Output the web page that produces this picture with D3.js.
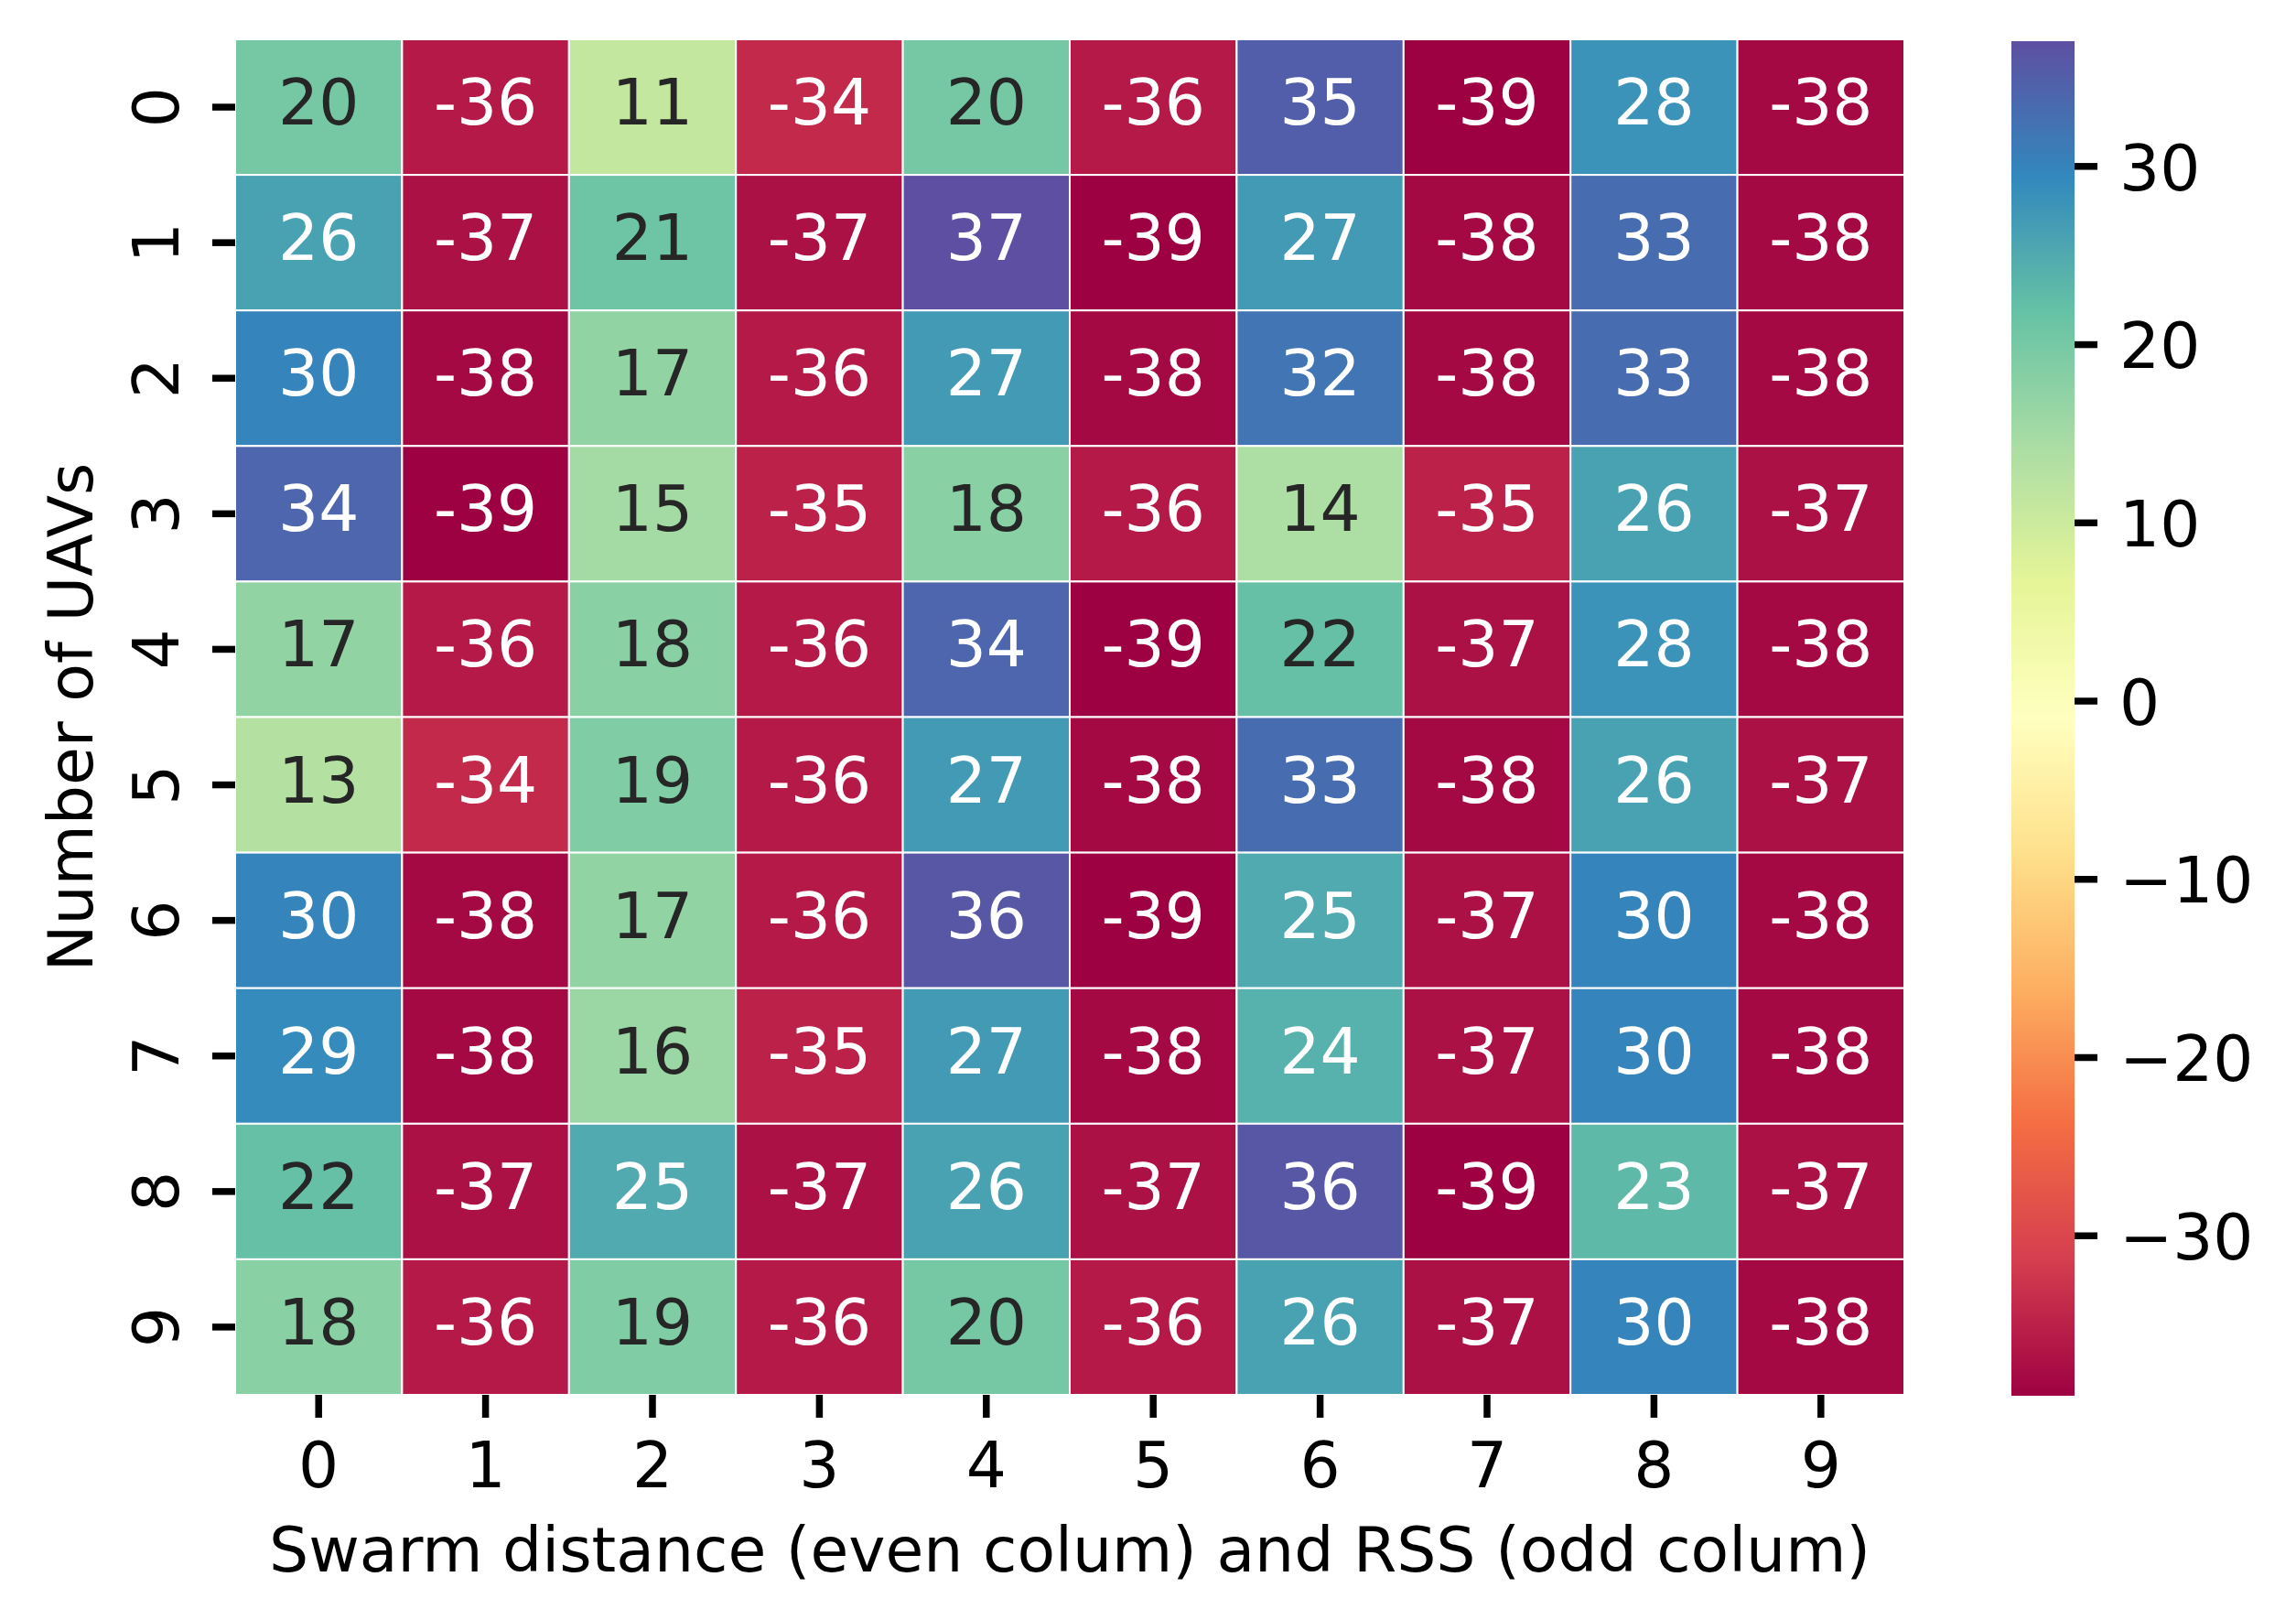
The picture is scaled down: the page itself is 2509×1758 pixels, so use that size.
<!DOCTYPE html>
<html>
<head>
<meta charset="utf-8">
<script src="https://cdn.jsdelivr.net/npm/d3@7"></script>
<style>
  body { margin: 0; background: #fff; }
  svg { display: block; font-family: "DejaVu Sans", sans-serif; }
</style>
</head>
<body>
<div id="chart"></div>
<script>
// row / column labels
const rowLabels = ['0', '1', '2', '3', '4', '5', '6', '7', '8', '9'];
const colLabels = ['0', '1', '2', '3', '4', '5', '6', '7', '8', '9'];

// values, one array per row (Number of UAVs)
const row0 = [20, -36, 11, -34, 20, -36, 35, -39, 28, -38];
const row1 = [26, -37, 21, -37, 37, -39, 27, -38, 33, -38];
const row2 = [30, -38, 17, -36, 27, -38, 32, -38, 33, -38];
const row3 = [34, -39, 15, -35, 18, -36, 14, -35, 26, -37];
const row4 = [17, -36, 18, -36, 34, -39, 22, -37, 28, -38];
const row5 = [13, -34, 19, -36, 27, -38, 33, -38, 26, -37];
const row6 = [30, -38, 17, -36, 36, -39, 25, -37, 30, -38];
const row7 = [29, -38, 16, -35, 27, -38, 24, -37, 30, -38];
const row8 = [22, -37, 25, -37, 26, -37, 36, -39, 23, -37];
const row9 = [18, -36, 19, -36, 20, -36, 26, -37, 30, -38];
const rows = [row0, row1, row2, row3, row4, row5, row6, row7, row8, row9];

const cbarTicks = [-30, -20, -10, 0, 10, 20, 30];

// matplotlib "Spectral" knots
const spectral = ['#9e0142', '#d53e4f', '#f46d43', '#fdae61', '#fee08b', '#ffffbf',
                  '#e6f598', '#abdda4', '#66c2a5', '#3288bd', '#5e4fa2'];

const w = 2509, h = 1758;
const fontSize = 69.4;
const labelSize = 68;
const heat = { left: 257, right: 2081, top: 43, bottom: 1524 };
const cbar = { left: 2198, right: 2267, top: 45, bottom: 1525 };

const cells = [];
rows.forEach((r, i) => r.forEach((v, j) => cells.push({ row: rowLabels[i], col: colLabels[j], value: v })));

const vmin = d3.min(cells, d => d.value), vmax = d3.max(cells, d => d.value);

const color = d3.scaleLinear()
    .domain(spectral.map((c, i) => vmin + i * (vmax - vmin) / (spectral.length - 1)))
    .range(spectral)
    .interpolate(d3.interpolateRgb);

// seaborn picks text colour from relative luminance
const lum = (c) => {
    const rgb = d3.rgb(c);
    const f = x => { x /= 255; return x <= 0.03928 ? x / 12.92 : Math.pow((x + 0.055) / 1.055, 2.4); };
    return 0.2126 * f(rgb.r) + 0.7152 * f(rgb.g) + 0.0722 * f(rgb.b);
};

const x = d3.scaleBand().domain(colLabels).range([heat.left, heat.right]);
const y = d3.scaleBand().domain(rowLabels).range([heat.top, heat.bottom]);
const cScale = d3.scaleLinear().domain([vmin, vmax]).range([cbar.bottom, cbar.top]);

const svg = d3.select('#chart').append('svg')
    .attr('width', w)
    .attr('height', h);

svg.append('rect').attr('width', w).attr('height', h).attr('fill', '#fff');

// cells
svg.append('g')
    .selectAll('rect')
    .data(cells)
    .enter()
    .append('rect')
    .attr('x', d => x(d.col))
    .attr('y', d => y(d.row))
    .attr('width', x.bandwidth())
    .attr('height', y.bandwidth())
    .attr('fill', d => color(d.value))
    .attr('stroke', '#fff')
    .attr('stroke-width', 2);

// annotations
svg.append('g')
    .selectAll('text')
    .data(cells)
    .enter()
    .append('text')
    .attr('x', d => x(d.col) + x.bandwidth() / 2)
    .attr('y', d => y(d.row) + y.bandwidth() / 2 + 19)
    .attr('text-anchor', 'middle')
    .attr('font-size', fontSize)
    .attr('fill', d => lum(color(d.value)) > 0.408 ? '#262626' : '#ffffff')
    .text(d => String(d.value));

const styleAxis = (g) => {
    g.select('.domain').remove();
    g.selectAll('.tick line').attr('stroke', '#000').attr('stroke-width', 7.5);
    g.selectAll('.tick text').attr('fill', '#000').attr('font-size', fontSize)
        .attr('font-family', '"DejaVu Sans", sans-serif');
};

// x axis
svg.append('g')
    .attr('transform', 'translate(0,' + heat.bottom + ')')
    .call(d3.axisBottom(x).tickSize(25).tickPadding(27))
    .call(styleAxis);

// y axis, labels rotated
const yAxisG = svg.append('g')
    .attr('transform', 'translate(' + heat.left + ',0)')
    .call(d3.axisLeft(y).tickSize(25))
    .call(styleAxis);
yAxisG.selectAll('.tick text')
    .attr('x', null)
    .attr('dy', null)
    .attr('text-anchor', 'middle')
    .attr('transform', 'translate(' + (195 - heat.left) + ',0) rotate(-90)');

// axis titles
svg.append('text')
    .attr('x', (heat.left + heat.right) / 2)
    .attr('y', 1717)
    .attr('text-anchor', 'middle')
    .attr('font-size', labelSize)
    .text('Swarm distance (even colum) and RSS (odd colum)');

svg.append('text')
    .attr('transform', 'translate(101,' + (heat.top + heat.bottom) / 2 + ') rotate(-90)')
    .attr('text-anchor', 'middle')
    .attr('font-size', labelSize)
    .text('Number of UAVs');

// colour bar
const grad = svg.append('defs').append('linearGradient')
    .attr('id', 'cbar-grad')
    .attr('x1', 0).attr('y1', 1).attr('x2', 0).attr('y2', 0);
grad.selectAll('stop')
    .data(color.domain())
    .enter()
    .append('stop')
    .attr('offset', d => (d - vmin) / (vmax - vmin))
    .attr('stop-color', d => color(d));

svg.append('rect')
    .attr('x', cbar.left)
    .attr('y', cScale(vmax))
    .attr('width', cbar.right - cbar.left)
    .attr('height', cScale(vmin) - cScale(vmax))
    .attr('fill', 'url(#cbar-grad)');

svg.append('g')
    .attr('transform', 'translate(' + cbar.right + ',0)')
    .call(d3.axisRight(cScale).tickValues(cbarTicks).tickFormat(d3.format('d')).tickSize(25).tickPadding(24))
    .call(styleAxis)
    .selectAll('.tick text')
    .attr('dy', '0.37em');
</script>
</body>
</html>
